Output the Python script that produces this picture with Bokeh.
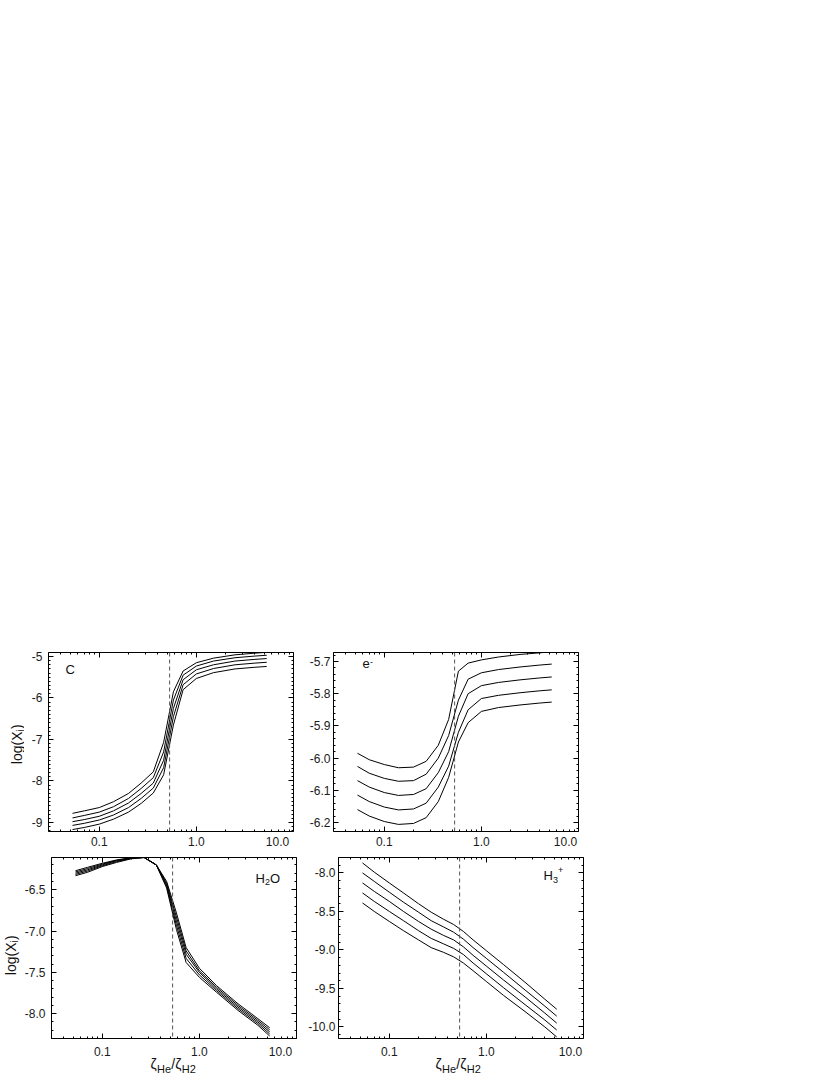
import numpy as np
from bokeh.plotting import figure
from bokeh.models import (LogAxis, LinearAxis, FixedTicker, PrintfTickFormatter,
                          Span, Label, Range1d, Spacer)
from bokeh.layouts import column, row
from bokeh.embed import file_html
from bokeh.resources import INLINE

# ---------------- data ----------------
X = [0.053, 0.07, 0.1, 0.14, 0.2, 0.27, 0.36, 0.46, 0.58, 0.73, 1.0, 1.5, 2.5, 4.0, 5.3]

C_1 = [-8.78, -8.72, -8.64, -8.50, -8.30, -8.05, -7.78, -7.07, -5.85, -5.35, -5.15, -5.04, -4.96, -4.92, -4.90]
C_2 = [-8.89, -8.83, -8.75, -8.62, -8.42, -8.18, -7.92, -7.30, -6.05, -5.45, -5.23, -5.11, -5.03, -4.99, -4.97]
C_3 = [-8.98, -8.93, -8.85, -8.72, -8.53, -8.30, -8.05, -7.50, -6.25, -5.56, -5.32, -5.20, -5.11, -5.07, -5.05]
C_4 = [-9.07, -9.02, -8.94, -8.82, -8.64, -8.42, -8.17, -7.68, -6.45, -5.68, -5.42, -5.29, -5.20, -5.16, -5.14]
C_5 = [-9.17, -9.12, -9.04, -8.92, -8.75, -8.54, -8.29, -7.85, -6.65, -5.80, -5.53, -5.39, -5.30, -5.26, -5.24]

E_1 = [-5.985, -6.005, -6.020, -6.030, -6.028, -6.010, -5.960, -5.880, -5.730, -5.705, -5.695, -5.686, -5.678, -5.673, -5.670]
E_2 = [-6.026, -6.047, -6.063, -6.072, -6.070, -6.050, -6.000, -5.930, -5.820, -5.755, -5.735, -5.725, -5.717, -5.711, -5.708]
E_3 = [-6.070, -6.090, -6.107, -6.116, -6.113, -6.095, -6.045, -5.980, -5.870, -5.800, -5.775, -5.765, -5.757, -5.751, -5.748]
E_4 = [-6.115, -6.135, -6.152, -6.161, -6.158, -6.140, -6.090, -6.025, -5.920, -5.850, -5.815, -5.805, -5.797, -5.791, -5.788]
E_5 = [-6.160, -6.180, -6.197, -6.206, -6.203, -6.185, -6.135, -6.060, -5.950, -5.890, -5.855, -5.843, -5.835, -5.829, -5.826]

W_1 = [-6.270, -6.230, -6.180, -6.140, -6.110, -6.110, -6.200, -6.400, -6.780, -7.200, -7.450, -7.660, -7.880, -8.060, -8.170]
W_2 = [-6.285, -6.245, -6.190, -6.145, -6.115, -6.110, -6.200, -6.420, -6.830, -7.240, -7.480, -7.680, -7.900, -8.080, -8.195]
W_3 = [-6.300, -6.260, -6.200, -6.150, -6.120, -6.110, -6.200, -6.440, -6.880, -7.280, -7.500, -7.700, -7.920, -8.100, -8.220]
W_4 = [-6.315, -6.275, -6.210, -6.160, -6.120, -6.110, -6.200, -6.460, -6.930, -7.330, -7.530, -7.720, -7.940, -8.120, -8.245]
W_5 = [-6.330, -6.290, -6.220, -6.170, -6.125, -6.110, -6.200, -6.480, -6.980, -7.380, -7.560, -7.740, -7.960, -8.140, -8.270]

H_1 = [-7.87, -7.99, -8.13, -8.26, -8.40, -8.51, -8.60, -8.67, -8.76, -8.87, -9.01, -9.19, -9.42, -9.64, -9.77]
H_2 = [-8.00, -8.11, -8.25, -8.38, -8.51, -8.62, -8.70, -8.77, -8.86, -8.97, -9.11, -9.29, -9.52, -9.73, -9.86]
H_3 = [-8.13, -8.24, -8.37, -8.50, -8.63, -8.73, -8.81, -8.87, -8.96, -9.07, -9.21, -9.39, -9.61, -9.82, -9.95]
H_4 = [-8.26, -8.37, -8.50, -8.62, -8.75, -8.85, -8.92, -8.98, -9.06, -9.17, -9.31, -9.49, -9.71, -9.91, -10.04]
H_5 = [-8.39, -8.50, -8.63, -8.75, -8.87, -8.97, -9.03, -9.09, -9.17, -9.27, -9.41, -9.59, -9.80, -10.00, -10.13]

DASH_X = 0.53
X_RANGE = (0.03, 10.0)
X_MAJOR = [0.1, 1.0, 10.0]
X_MINOR = [0.03, 0.04, 0.05, 0.06, 0.07, 0.08, 0.09,
           0.2, 0.3, 0.4, 0.5, 0.6, 0.7, 0.8, 0.9,
           2.0, 3.0, 4.0, 5.0, 6.0, 7.0, 8.0, 9.0]

C_YR = (-9.217, -4.904)
E_YR = (-6.228, -5.672)
W_YR = (-8.30, -6.11)
H_YR = (-10.15, -7.80)

C_TICKS = [-9, -8, -7, -6, -5]
E_TICKS = [-6.2, -6.1, -6.0, -5.9, -5.8, -5.7]
W_TICKS = [-8.0, -7.5, -7.0, -6.5]
H_TICKS = [-10.0, -9.5, -9.0, -8.5, -8.0]

FONT = "Liberation Sans"
FW = 245            # frame width
NB = "\u00a0"


def minor(lo, hi, step):
    return [round(v, 3) for v in np.arange(lo, hi + step / 2, step)]


def style_axis(ax, ticker, fmt=None, show=True, standoff=5):
    ax.ticker = ticker
    if fmt is not None:
        ax.formatter = fmt
    ax.axis_line_color = "black"
    ax.axis_line_width = 1
    ax.major_tick_line_color = "black"
    ax.minor_tick_line_color = "black"
    ax.major_tick_in = 5
    ax.major_tick_out = 0
    ax.minor_tick_in = 2
    ax.minor_tick_out = 0
    ax.major_label_text_font = FONT
    ax.major_label_text_color = "#1a1a1a"
    if show:
        ax.major_label_text_font_size = "12px"
        ax.major_label_standoff = standoff
    else:
        ax.major_label_text_font_size = "0px"
        ax.major_label_standoff = 0
        ax.major_label_overrides = {t: "" for t in ticker.ticks}


def lbl(p, x, y, text, size="13px", align="left", angle=0.0):
    p.add_layout(Label(x=x, y=y, x_units="screen", y_units="screen", text=text,
                       text_font=FONT, text_font_size=size, text_color="#111111",
                       text_align=align, text_baseline="middle", angle=angle))


def make(series, yr, yticks, yminor, yfmt, fh, bleft, bright, btop, bbot, xstand, ystand):
    p = figure(frame_width=FW, frame_height=fh, x_axis_type="log",
               x_range=Range1d(*X_RANGE), y_range=Range1d(*yr),
               output_backend="svg", toolbar_location=None,
               min_border_left=bleft, min_border_right=bright,
               min_border_top=btop, min_border_bottom=bbot)
    p.grid.visible = False
    p.outline_line_color = None
    p.background_fill_color = "white"
    p.border_fill_color = None

    xt = FixedTicker(ticks=X_MAJOR, minor_ticks=X_MINOR)
    style_axis(p.xaxis[0], xt, PrintfTickFormatter(format="%.1f"), True, xstand)
    # last tick label pulled inside the box, as in the reference
    p.xaxis[0].major_label_overrides = {10.0: "10.0" + NB * 4}
    yt = FixedTicker(ticks=yticks, minor_ticks=yminor)
    style_axis(p.yaxis[0], yt, PrintfTickFormatter(format=yfmt), True, ystand)

    top = LogAxis()
    style_axis(top, FixedTicker(ticks=X_MAJOR, minor_ticks=X_MINOR), None, False)
    p.add_layout(top, "above")
    rt = LinearAxis()
    style_axis(rt, FixedTicker(ticks=yticks, minor_ticks=yminor), None, False)
    p.add_layout(rt, "right")

    for ys in series:
        p.line(X, ys, line_color="black", line_width=1)
    p.add_layout(Span(location=DASH_X, dimension="height", line_color="#555555",
                      line_dash="4 3", line_width=1))
    return p


def strip(fw, fh, bl, br, bt, bb):
    s = figure(frame_width=fw, frame_height=fh, x_range=Range1d(0, 1), y_range=Range1d(0, 1),
               x_axis_location=None, y_axis_location=None,
               output_backend="svg", toolbar_location=None,
               min_border_left=bl, min_border_right=br,
               min_border_top=bt, min_border_bottom=bb)
    s.grid.visible = False
    s.outline_line_color = None
    s.background_fill_color = None
    s.border_fill_color = None
    return s


p1 = make([C_1, C_2, C_3, C_4, C_5], C_YR, C_TICKS, minor(-9.2, -4.9, 0.1), "%.0f",
          179, 24, 9, 5, 19, 3, 6)
p2 = make([E_1, E_2, E_3, E_4, E_5], E_YR, E_TICKS, minor(-6.22, -5.68, 0.02), "%.1f",
          179, 31, 12, 5, 19, 3, 3)
p3 = make([W_1, W_2, W_3, W_4, W_5], W_YR, W_TICKS, minor(-8.3, -6.2, 0.1), "%.1f",
          181, 27, 9, 6, 20, 6, 6)
p4 = make([H_1, H_2, H_3, H_4, H_5], H_YR, H_TICKS, minor(-10.1, -7.8, 0.1), "%.1f",
          181, 31, 12, 6, 20, 6, 3)

# panel labels (text centres, measured from the frame's lower-left corner)
lbl(p1, 17, 162.5, "C")
lbl(p2, 29, 168, "e")
lbl(p2, 36.5, 170, "-", size="9px")
lbl(p3, 204, 160.5, "H")
lbl(p3, 213.4, 157, "2", size="9px")
lbl(p3, 218.6, 160.5, "O")
lbl(p4, 205, 163, "H")
lbl(p4, 214.4, 159, "3", size="9px")
lbl(p4, 219.6, 169, "+", size="9px")

# y axis titles: log(X_i), in narrow strips left of the left panels
yt1 = strip(24, 179, 0, 0, 5, 19)
yt3 = strip(21, 181, 0, 0, 6, 20)
for s, cx, py in [(yt1, 16, 100), (yt3, 10, 96)]:
    lbl(s, cx, py, "log(X", size="14px", align="right", angle=np.pi / 2)
    lbl(s, cx + 3.5, py, "i", size="10px", align="left", angle=np.pi / 2)
    lbl(s, cx, py + 2.6, ")", size="14px", align="left", angle=np.pi / 2)

# x axis titles: zeta_He / zeta_H2, in strips under the bottom panels
XT_H = 30
xt3 = strip(FW, XT_H, 48, 9, 0, 0)
xt4 = strip(FW, XT_H, 31, 12, 0, 0)
for s in (xt3, xt4):
    x0 = 102
    lbl(s, x0, 13, "\u03b6", size="14px")
    lbl(s, x0 + 6.5, 7.5, "He", size="11px")
    lbl(s, x0 + 20.8, 13, "/\u03b6", size="14px")
    lbl(s, x0 + 31.2, 7.5, "H2", size="11px")

layout = column(Spacer(width=10, height=647),
                row(yt1, p1, p2),
                row(yt3, p3, p4),
                row(xt3, xt4, margin=(-15, 0, 0, 0)))
open("out.html", "w").write(file_html(layout, INLINE))
